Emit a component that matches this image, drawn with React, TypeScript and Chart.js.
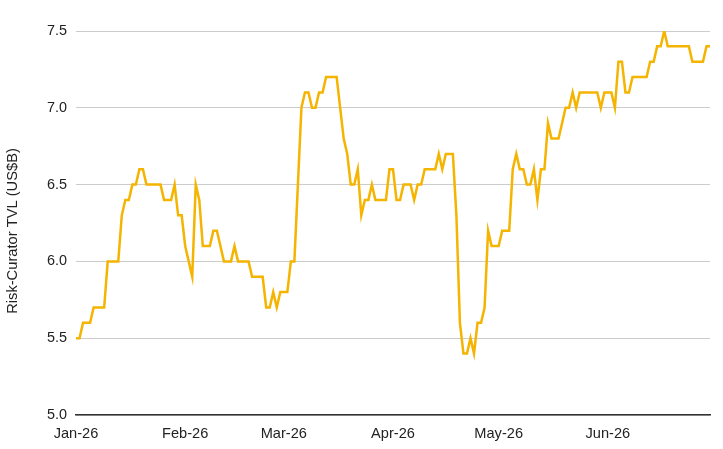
import { useEffect, useRef } from 'react';
import { Chart, registerables } from 'chart.js';

Chart.register(...registerables);

// Daily TVL readings (US$B), one array per month of 2026
const janTvl = [5.5, 5.5, 5.6, 5.6, 5.6, 5.7, 5.7, 5.7, 5.7, 6.0, 6.0, 6.0, 6.0, 6.3, 6.4, 6.4, 6.5, 6.5, 6.6, 6.6, 6.5, 6.5, 6.5, 6.5, 6.5, 6.4, 6.4, 6.4, 6.5, 6.3, 6.3];
const febTvl = [6.1, 6.0, 5.9, 6.5, 6.4, 6.1, 6.1, 6.1, 6.2, 6.2, 6.1, 6.0, 6.0, 6.0, 6.1, 6.0, 6.0, 6.0, 6.0, 5.9, 5.9, 5.9, 5.9, 5.7, 5.7, 5.8, 5.7, 5.8];
const marTvl = [5.8, 5.8, 6.0, 6.0, 6.5, 7.0, 7.1, 7.1, 7.0, 7.0, 7.1, 7.1, 7.2, 7.2, 7.2, 7.2, 7.0, 6.8, 6.7, 6.5, 6.5, 6.6, 6.3, 6.4, 6.4, 6.5, 6.4, 6.4, 6.4, 6.4, 6.6];
const aprTvl = [6.6, 6.4, 6.4, 6.5, 6.5, 6.5, 6.4, 6.5, 6.5, 6.6, 6.6, 6.6, 6.6, 6.7, 6.6, 6.7, 6.7, 6.7, 6.3, 5.6, 5.4, 5.4, 5.5, 5.4, 5.6, 5.6, 5.7, 6.2, 6.1, 6.1];
const mayTvl = [6.1, 6.2, 6.2, 6.2, 6.6, 6.7, 6.6, 6.6, 6.5, 6.5, 6.6, 6.4, 6.6, 6.6, 6.9, 6.8, 6.8, 6.8, 6.9, 7.0, 7.0, 7.1, 7.0, 7.1, 7.1, 7.1, 7.1, 7.1, 7.1, 7.0, 7.1];
const junTvl = [7.1, 7.1, 7.0, 7.3, 7.3, 7.1, 7.1, 7.2, 7.2, 7.2, 7.2, 7.2, 7.3, 7.3, 7.4, 7.4, 7.5, 7.4, 7.4, 7.4, 7.4, 7.4, 7.4, 7.4, 7.3, 7.3, 7.3, 7.3, 7.4, 7.4];

const monthNames = ['Jan', 'Feb', 'Mar', 'Apr', 'May', 'Jun'];
const monthSeries = [janTvl, febTvl, marTvl, aprTvl, mayTvl, junTvl];
const yearSuffix = '26';
const yTicks = [5.0, 5.5, 6.0, 6.5, 7.0, 7.5];
const yTitle = 'Risk-Curator TVL (US$B)';

const FONT = '"Liberation Sans", Arial, sans-serif';

// y-axis title drawn by hand so it can sit a little lower than the chart-area centre
const yTitlePlugin = {
  id: 'yTitle',
  afterDraw(chart: Chart) {
    const { ctx } = chart;
    ctx.save();
    ctx.translate(16.5, 231);
    ctx.rotate(-Math.PI / 2);
    ctx.font = `14.7px ${FONT}`;
    ctx.fillStyle = '#222222';
    ctx.textAlign = 'center';
    ctx.textBaseline = 'alphabetic';
    ctx.fillText(yTitle, 0, 0);
    ctx.restore();
  },
};

export default function App() {
  const chartRef = useRef<HTMLCanvasElement>(null);
  const chartInstance = useRef<Chart | null>(null);

  useEffect(() => {
    document.body.style.margin = '0';
    if (!chartRef.current) return;

    if (chartInstance.current) {
      chartInstance.current.destroy();
    }

    const labels: string[] = [];
    const values: number[] = [];
    monthSeries.forEach((arr, m) => {
      arr.forEach((v, i) => {
        labels.push(`${monthNames[m]}-${i + 1}`);
        values.push(v);
      });
    });

    const ctx = chartRef.current.getContext('2d');
    if (!ctx) return;

    chartInstance.current = new Chart(ctx, {
      type: 'line',
      data: {
        labels,
        datasets: [
          {
            label: 'Risk-Curator TVL',
            data: values,
            borderColor: '#F4B400',
            backgroundColor: '#F4B400',
            borderWidth: 2.5,
            pointRadius: 0,
            tension: 0,
          },
        ],
      },
      options: {
        responsive: true,
        maintainAspectRatio: false,
        animation: false,
        layout: {
          padding: { left: 0, right: 13, top: 31, bottom: 0 },
        },
        plugins: {
          legend: { display: false },
          tooltip: { enabled: false },
        },
        scales: {
          x: {
            type: 'category',
            offset: false,
            grid: { display: false, drawTicks: false },
            border: { display: true, color: '#333333', width: 1.5 },
            ticks: {
              autoSkip: false,
              maxRotation: 0,
              minRotation: 0,
              padding: 10,
              color: '#222222',
              font: { family: FONT, size: 14.6 },
              callback: (_v, idx) => {
                const lbl = labels[idx as number];
                const [mon, day] = lbl.split('-');
                return day === '1' ? `${mon}-${yearSuffix}` : null;
              },
            },
            afterFit: (scale) => {
              scale.height = 34;
            },
          },
          y: {
            min: yTicks[0],
            max: yTicks[yTicks.length - 1],
            grid: { color: '#cccccc', drawTicks: false, lineWidth: 1 },
            border: { display: false },
            ticks: {
              stepSize: 0.5,
              padding: 9,
              color: '#222222',
              font: { family: FONT, size: 14.4 },
              callback: (v) => Number(v).toFixed(1),
            },
            afterFit: (scale) => {
              scale.width = 76;
            },
          },
        },
      },
      plugins: [yTitlePlugin],
    });

    return () => {
      if (chartInstance.current) {
        chartInstance.current.destroy();
        chartInstance.current = null;
      }
    };
  }, []);

  return (
    <div style={{ position: 'relative', width: 723, height: 449 }}>
      <canvas ref={chartRef} />
    </div>
  );
}
